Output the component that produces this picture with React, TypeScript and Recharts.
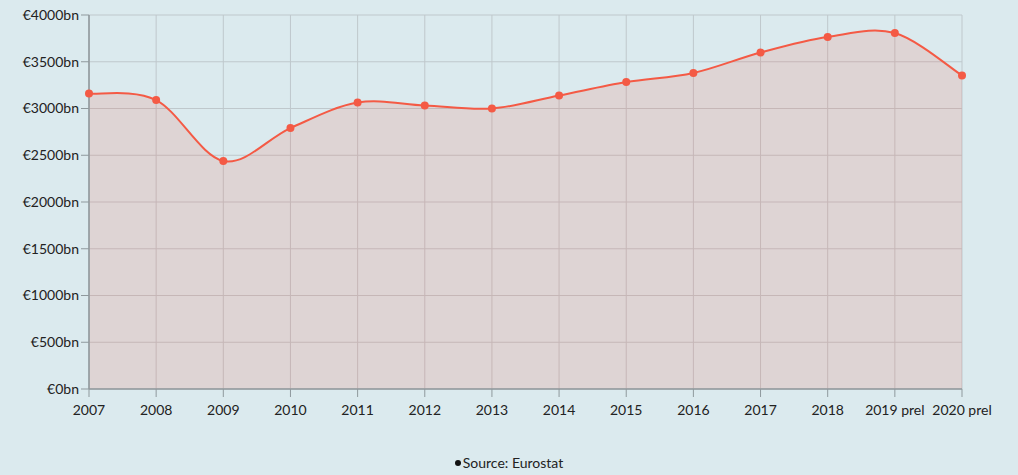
import React from 'react';
import { AreaChart, Area, XAxis, YAxis, CartesianGrid } from 'recharts';

const categories = ['2007', '2008', '2009', '2010', '2011', '2012', '2013', '2014', '2015', '2016', '2017', '2018', '2019 prel', '2020 prel'];
const values = [3160, 3090, 2439, 2791, 3064, 3032, 3000, 3139, 3283, 3380, 3599, 3765, 3807, 3353];
const yTicks = [0, 500, 1000, 1500, 2000, 2500, 3000, 3500, 4000];
const seriesName = 'Source: Eurostat';

const data = categories.map((c, i) => ({ year: c, value: values[i] }));

// Cardinal (uniform Catmull-Rom) spline with duplicated end points
function CardinalCurve(this: any, context: any) {
  this._context = context;
}
CardinalCurve.prototype = {
  areaStart() { this._line = 0; },
  areaEnd() { this._line = NaN; },
  lineStart() { this._x = []; this._y = []; },
  point(x: number, y: number) { this._x.push(+x); this._y.push(+y); },
  lineEnd() {
    const xs: number[] = this._x, ys: number[] = this._y, n = xs.length;
    const ctx = this._context;
    if (n) {
      if (this._line) ctx.lineTo(xs[0], ys[0]); else ctx.moveTo(xs[0], ys[0]);
      for (let i = 0; i < n - 1; i++) {
        const i0 = Math.max(0, i - 1);
        const i3 = Math.min(n - 1, i + 2);
        const c1x = xs[i] + (xs[i + 1] - xs[i0]) / 6;
        const c1y = ys[i] + (ys[i + 1] - ys[i0]) / 6;
        const c2x = xs[i + 1] - (xs[i3] - xs[i]) / 6;
        const c2y = ys[i + 1] - (ys[i3] - ys[i]) / 6;
        ctx.bezierCurveTo(c1x, c1y, c2x, c2y, xs[i + 1], ys[i + 1]);
      }
    }
    if (this._line || (this._line !== 0 && n === 1)) ctx.closePath();
    this._line = 1 - this._line;
    this._x = this._y = null;
  },
};
const curveCardinal: any = (context: any) => new (CardinalCurve as any)(context);

const BG = '#dbeaee';
const LINE = '#f45a45';
const GRID = '#bfc8cc';
const AXIS = '#8f999d';
const FONT = 'Lato, "Noto Sans", sans-serif';

export default function App() {
  return (
    <div style={{ position: 'absolute', left: 0, top: 0, width: 1018, height: 475, background: BG, fontFamily: FONT }}>
      <AreaChart width={1018} height={475} data={data} margin={{ top: 15, right: 56, bottom: 56, left: 0 }}>
        <CartesianGrid stroke={GRID} strokeWidth={1} vertical={true} horizontal={true} />
        <XAxis
          dataKey="year"
          interval={0}
          tickSize={8}
          tickMargin={8}
          height={30}
          stroke={AXIS}
          tickLine={{ stroke: AXIS }}
          axisLine={{ stroke: AXIS, strokeWidth: 1.5 }}
          tick={{ fill: '#222', fontSize: 14, fontFamily: FONT }}
        />
        <YAxis
          domain={[0, 4000]}
          ticks={yTicks}
          width={89}
          tickSize={8}
          tickMargin={2}
          interval={0}
          tickFormatter={(v: number) => `€${v}bn`}
          stroke={AXIS}
          tickLine={{ stroke: AXIS }}
          axisLine={{ stroke: AXIS, strokeWidth: 1.5 }}
          tick={{ fill: '#222', fontSize: 14, fontFamily: FONT }}
        />
        <Area
          type={curveCardinal}
          dataKey="value"
          name={seriesName}
          stroke={LINE}
          strokeWidth={2}
          fill={LINE}
          fillOpacity={0.15}
          dot={{ r: 4, fill: LINE, fillOpacity: 1, stroke: LINE, strokeWidth: 0 }}
          activeDot={false}
          isAnimationActive={false}
        />
      </AreaChart>
      <div style={{ position: 'absolute', left: 0, width: 1018, top: 454, textAlign: 'center', fontSize: 14, color: '#222', fontFamily: FONT }}>
        <span style={{ display: 'inline-block', width: 6, height: 6, borderRadius: 3, background: '#111', marginRight: 2, verticalAlign: 'middle', position: 'relative', top: -1 }} />
        {seriesName}
      </div>
    </div>
  );
}
